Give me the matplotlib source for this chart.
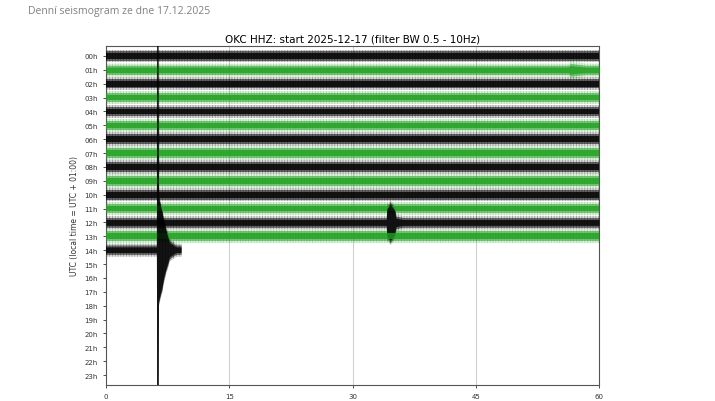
import numpy as np
import matplotlib
matplotlib.use("Agg")
import matplotlib.pyplot as plt

# --- data -------------------------------------------------------------------
hour_labels = ["%02dh" % h for h in range(24)]
data_hours = list(range(15))                 # record stops early in the 14h row
trace_end = [60] * 14 + [9.2]                # minutes
# half-height of the dense core / of the spiky fringe, in row units
noise_core = [0.20, 0.20, 0.20, 0.20, 0.21, 0.20, 0.21, 0.21, 0.21, 0.21,
              0.21, 0.21, 0.21, 0.21, 0.20]
noise_peak = [0.46, 0.47, 0.46, 0.48, 0.48, 0.49, 0.49, 0.49, 0.49, 0.49,
              0.49, 0.49, 0.49, 0.49, 0.47]

# event envelopes: minute, half-height (rows); 0 = only background noise
event_hour = [14, 12, 1]
event_min = [
    [6.20, 6.24, 6.38, 6.45, 6.8, 7.2, 7.8, 8.6],
    [34.1, 34.2, 34.6, 35.1, 35.3, 36.2],
    [56.3, 56.5, 57.4, 58.4],
]
event_amp = [
    [0.0, 16.0, 16.0, 4.0, 3.2, 2.0, 0.8, 0.0],
    [0.0, 1.3, 1.6, 1.2, 0.6, 0.0],
    [0.0, 0.62, 0.55, 0.0],
]

colors = ["black", "#22a022"]
plt.rcParams["hatch.linewidth"] = 0.6

fig = plt.figure(figsize=(7.15, 4.02), dpi=100)
fig.text(28 / 715, 1 - 14 / 402, "Denní seismogram ze dne 17.12.2025",
         fontsize=7.5, color="#808080", family=["Open Sans", "DejaVu Sans"])

ax = fig.add_axes([106 / 715, 1 - 386 / 402, 493 / 715, 339 / 402])

for x in [15, 30, 45]:
    ax.axvline(x, color="#d0d0d0", lw=0.8, zorder=0)

for h in data_hours:
    col = colors[h % 2]
    xs = [0.0, trace_end[h]]
    core = [noise_core[h], noise_core[h]]
    peak = [noise_peak[h], noise_peak[h]]
    if h in event_hour:
        k = event_hour.index(h)
        xs = [0.0] + event_min[k] + [trace_end[h]]
        core = [noise_core[h]] + [max(a - 0.3, noise_core[h]) for a in event_amp[k]] + [noise_core[h]]
        peak = [noise_peak[h]] + [max(a, noise_peak[h]) for a in event_amp[k]] + [noise_peak[h]]
    xs = np.array(xs)
    core = np.array(core)
    peak = np.array(peak)
    mid = core + 0.5 * (peak - core)
    # spiky fringe
    ax.fill_between(xs, h - peak, h + peak, color=col, alpha=0.15, lw=0, zorder=2)
    ax.fill_between(xs, h - peak, h + peak, facecolor="none", edgecolor=col,
                    hatch="||||||", lw=0, alpha=0.3, zorder=2)
    ax.fill_between(xs, h - mid, h + mid, color=col, alpha=0.55, lw=0, zorder=3)
    ax.fill_between(xs, h - core, h + core, color=col, alpha=0.8, lw=0, zorder=4)

ax.set_xlim(0, 60)
ax.set_ylim(23.72, -0.72)
ax.set_xticks([0, 15, 30, 45, 60])
ax.set_yticks(range(24))
ax.set_yticklabels(hour_labels)
ax.tick_params(labelsize=5, length=2.5, width=0.6, colors="#333333")
for s in ax.spines.values():
    s.set_linewidth(0.8)
    s.set_color("#555555")

ax.set_title("OKC HHZ: start 2025-12-17 (filter BW 0.5 - 10Hz)", fontsize=7.5, pad=3)
ax.set_ylabel("UTC (local time = UTC + 01:00)", fontsize=5.5, color="#333333", labelpad=4)
ax.set_xlabel("time in minutes", fontsize=5.5, color="#333333", labelpad=5)

fig.savefig("out.png", dpi=100)
